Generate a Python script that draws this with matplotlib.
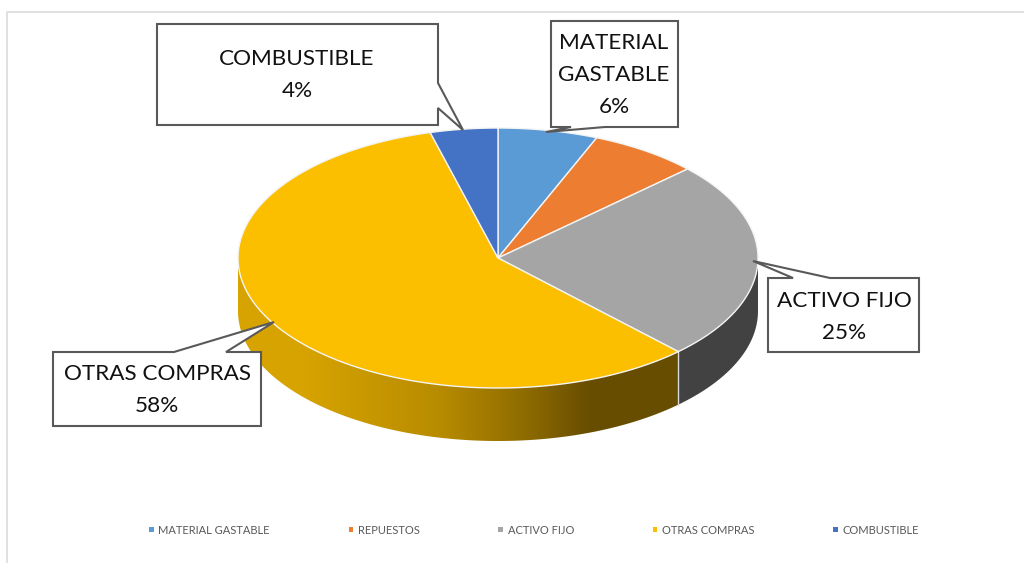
import numpy as np
import matplotlib
matplotlib.use("Agg")
from matplotlib import pyplot as plt
from matplotlib.colors import LinearSegmentedColormap
from matplotlib.patches import Patch, Polygon

plt.rcParams['font.family'] = ['Lato', 'DejaVu Sans']

categorias = ["MATERIAL GASTABLE", "REPUESTOS", "ACTIVO FIJO", "OTRAS COMPRAS", "COMBUSTIBLE"]
valores = [6.2, 6.8, 24.8, 58.0, 4.2]
colores = ["#5b9bd5", "#ed7d31", "#a5a5a5", "#fbbf00", "#4472c4"]

# pie geometry in pixels
cx, cy = 498, 258
rx, ry = 260, 130
alto = 53


def punto(ang):
    a = np.radians(ang)
    return cx + rx * np.sin(a), cy - ry * np.cos(a)


fig = plt.figure(figsize=(10.24, 5.63), dpi=100)
ax = fig.add_axes([0, 0, 1, 1])
ax.set_xlim(0, 1024)
ax.set_ylim(563, 0)
ax.axis("off")

# chart frame
ax.plot([1024, 6.5, 6.5], [11.5, 11.5, 563], color="#dedede", lw=1.3)

bordes = np.concatenate([[0], np.cumsum(valores)]) / sum(valores) * 360

# sides first
for i in range(len(valores)):
    ini = max(bordes[i], 90)
    fin = min(bordes[i + 1], 270)
    if fin <= ini:
        continue
    t = np.linspace(ini, fin, 200)
    x, y = punto(t)
    verts = np.vstack([np.c_[x, y], np.c_[x[::-1], y[::-1] + alto]])
    if categorias[i] == "OTRAS COMPRAS":
        cmap = LinearSegmentedColormap.from_list("lado", [
            (0.0, "#d8a400"), (0.15, "#d6a300"), (0.45, "#b98c00"),
            (0.65, "#8f6c00"), (0.80, "#674d00"), (1.0, "#674d00")])
        im = ax.imshow(np.linspace(0, 1, 256)[None, :], cmap=cmap, aspect="auto",
                       extent=(x.min(), x.max(), 460, 250), zorder=2)
        clip = Polygon(verts, closed=True, transform=ax.transData, fc="none", ec="none")
        ax.add_patch(clip)
        im.set_clip_path(clip)
    else:
        ax.add_patch(Polygon(verts, closed=True, fc="#424242", ec="none", zorder=2))
ax.set_xlim(0, 1024)
ax.set_ylim(563, 0)
xs, ys = punto(bordes[3])
ax.plot([xs, xs], [ys, ys + alto], color="#d9d9d9", lw=1, zorder=3)

# top face
for i in range(len(valores)):
    t = np.linspace(bordes[i], bordes[i + 1], 200)
    x, y = punto(t)
    verts = np.vstack([[cx, cy], np.c_[x, y]])
    ax.add_patch(Polygon(verts, closed=True, fc=colores[i], ec="#f4f4f4", lw=1, zorder=4))

# callouts: outline vertices and text centre for each labelled slice
globos = {
    "COMBUSTIBLE": ([(157, 24), (438, 24), (438, 83), (463, 130), (438, 108), (438, 125), (157, 125)],
                    (297, 75), "COMBUSTIBLE"),
    "MATERIAL GASTABLE": ([(551, 21), (678, 21), (678, 127), (605, 127), (546, 132), (571, 127), (551, 127)],
                          (614, 75), "MATERIAL\nGASTABLE"),
    "ACTIVO FIJO": ([(768, 278), (793, 278), (753, 261), (830, 278), (919, 278), (919, 352), (768, 352)],
                    (844, 317), "ACTIVO FIJO"),
    "OTRAS COMPRAS": ([(53, 352), (174, 352), (274, 322), (226, 352), (261, 352), (261, 426), (53, 426)],
                      (157, 390), "OTRAS COMPRAS"),
}
for nombre, (verts, centro, rotulo) in globos.items():
    ax.add_patch(Polygon(verts, closed=True, fc="white", ec="#595959", lw=1.5,
                         joinstyle="miter", zorder=5))
    pct = valores[categorias.index(nombre)]
    ax.text(centro[0], centro[1], f"{rotulo}\n{pct:.0f}%", ha="center", va="center",
            fontsize=16.2, color="#111111", linespacing=1.72, zorder=6)

# legend
ley = [Patch(fc=c, ec="none") for c in colores]
ax.legend(ley, categorias, ncol=5, loc="center", bbox_to_anchor=(534, 530),
          bbox_transform=ax.transData, frameon=False, fontsize=8, labelcolor="#595959",
          handlelength=0.42, handleheight=0.42, handletextpad=0.4, columnspacing=7.1)

fig.savefig("out.png", dpi=100)
